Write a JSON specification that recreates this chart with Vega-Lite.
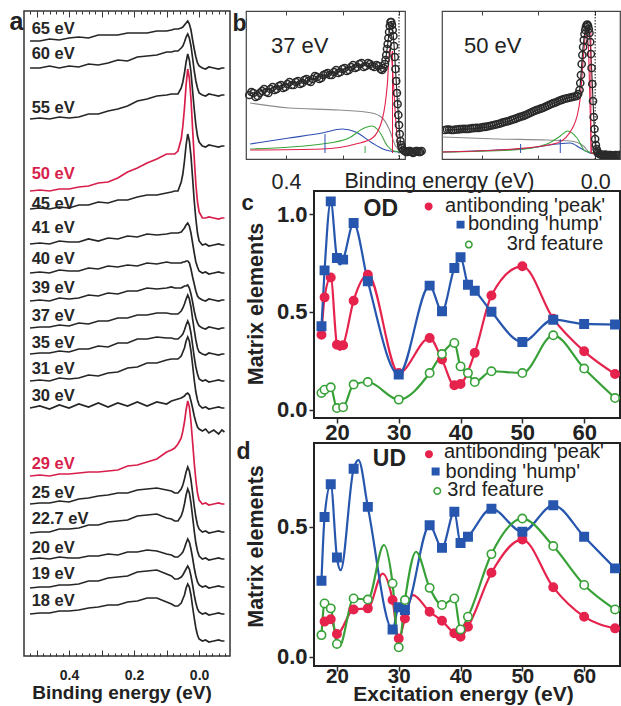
{
"$schema": "https://vega.github.io/schema/vega-lite/v6.json",
"background": "white",
"padding": {"left": 8, "top": 8, "right": 0, "bottom": 0},
"config": {
  "font": "Liberation Sans",
  "axis": {"grid": false, "domain": false, "labelFont": "Liberation Sans", "titleFont": "Liberation Sans", "labelColor": "#222", "titleColor": "#222", "tickColor": "#2a2a2a"},
  "title": {"font": "Liberation Sans", "color": "#222"},
  "text": {"font": "Liberation Sans"}
},
"datasets": {
  "traces": [
    {"t":"65 eV","hl":0,"e":[0.52,0.49,0.46,0.43,0.40,0.37,0.34,0.31,0.28,0.25,0.22,0.19,0.16,0.13,0.10,0.085,0.075,0.065,0.055,0.05,0.045,0.04,0.035,0.03,0.025,0.02,0.015,0.01,0.005,0,-0.01,-0.02,-0.03,-0.045,-0.06,-0.07,-0.078],"i":[615,615,617,616,618,619,618,621,621,621,623,623,623,625,625,626,627,627,628,629,631,633,635,632,626,616,607,599,593,590,588,587,589,588,587,588,588]},
    {"t":"60 eV","hl":0,"e":[0.52,0.49,0.46,0.43,0.40,0.37,0.34,0.31,0.28,0.25,0.22,0.19,0.16,0.13,0.10,0.085,0.075,0.065,0.055,0.05,0.045,0.04,0.035,0.03,0.025,0.02,0.015,0.01,0.005,0,-0.01,-0.02,-0.03,-0.045,-0.06,-0.07,-0.078],"i":[588,588,590,588,590,589,592,591,593,596,595,599,600,601,604,604,605,605,608,610,614,619,622,618,610,598,585,575,568,563,561,560,562,561,560,561,561]},
    {"t":"55 eV","hl":0,"e":[0.52,0.49,0.46,0.43,0.40,0.37,0.34,0.31,0.28,0.25,0.22,0.19,0.16,0.13,0.10,0.085,0.075,0.065,0.055,0.05,0.045,0.04,0.035,0.03,0.025,0.02,0.015,0.01,0.005,0,-0.01,-0.02,-0.03,-0.045,-0.06,-0.07,-0.078],"i":[537,538,537,539,538,539,542,542,545,547,550,555,557,560,561,562,562,562,568,574,583,594,602,596,584,565,547,531,520,514,510,509,511,510,509,510,510]},
    {"t":"45 eV","hl":0,"e":[0.52,0.49,0.46,0.43,0.40,0.37,0.34,0.31,0.28,0.25,0.22,0.19,0.16,0.13,0.10,0.085,0.075,0.065,0.055,0.05,0.045,0.04,0.035,0.03,0.025,0.02,0.015,0.01,0.005,0,-0.01,-0.02,-0.03,-0.045,-0.06,-0.07,-0.078],"i":[447,448,447,449,448,451,451,454,453,456,456,459,461,461,463,464,465,465,474,482,495,511,522,515,500,478,455,437,423,415,411,412,410,411,412,411,411]},
    {"t":"41 eV","hl":0,"e":[0.52,0.49,0.46,0.43,0.40,0.37,0.34,0.31,0.28,0.25,0.22,0.19,0.16,0.13,0.10,0.085,0.075,0.065,0.055,0.05,0.045,0.04,0.035,0.03,0.025,0.02,0.015,0.01,0.005,0,-0.01,-0.02,-0.03,-0.045,-0.06,-0.07,-0.078],"i":[412,413,412,415,414,414,417,415,418,417,420,419,422,421,422,423,423,423,424,426,428,431,433,430,423,413,403,394,389,385,383,384,382,383,384,383,383]},
    {"t":"40 eV","hl":0,"e":[0.52,0.49,0.46,0.43,0.40,0.37,0.34,0.31,0.28,0.25,0.22,0.19,0.16,0.13,0.10,0.085,0.075,0.065,0.055,0.05,0.045,0.04,0.035,0.03,0.025,0.02,0.015,0.01,0.005,0,-0.01,-0.02,-0.03,-0.045,-0.06,-0.07,-0.078],"i":[383,384,383,386,385,385,388,387,390,389,391,390,393,392,394,393,393,393,393,394,394,395,395,393,387,379,372,365,360,358,356,355,357,356,355,356,356]},
    {"t":"39 eV","hl":0,"e":[0.52,0.49,0.46,0.43,0.40,0.37,0.34,0.31,0.28,0.25,0.22,0.19,0.16,0.13,0.10,0.085,0.075,0.065,0.055,0.05,0.045,0.04,0.035,0.03,0.025,0.02,0.015,0.01,0.005,0,-0.01,-0.02,-0.03,-0.045,-0.06,-0.07,-0.078],"i":[355,356,355,358,357,358,361,360,363,362,365,365,368,367,368,369,368,368,368,369,370,370,371,368,362,354,345,338,333,330,328,327,329,328,327,328,328]},
    {"t":"37 eV","hl":0,"e":[0.52,0.49,0.46,0.43,0.40,0.37,0.34,0.31,0.28,0.25,0.22,0.19,0.16,0.13,0.10,0.085,0.075,0.065,0.055,0.05,0.045,0.04,0.035,0.03,0.025,0.02,0.015,0.01,0.005,0,-0.01,-0.02,-0.03,-0.045,-0.06,-0.07,-0.078],"i":[328,329,329,331,330,333,332,335,335,338,338,341,341,343,343,342,342,342,345,348,352,357,361,357,349,337,326,316,308,304,302,301,303,302,301,302,302]},
    {"t":"35 eV","hl":0,"e":[0.52,0.49,0.46,0.43,0.40,0.37,0.34,0.31,0.28,0.25,0.22,0.19,0.16,0.13,0.10,0.085,0.075,0.065,0.055,0.05,0.045,0.04,0.035,0.03,0.025,0.02,0.015,0.01,0.005,0,-0.01,-0.02,-0.03,-0.045,-0.06,-0.07,-0.078],"i":[302,303,303,305,304,307,307,310,309,313,313,317,317,319,318,318,317,317,320,322,326,331,335,331,323,311,299,289,282,277,275,276,274,275,276,275,275]},
    {"t":"31 eV","hl":0,"e":[0.52,0.49,0.46,0.43,0.40,0.37,0.34,0.31,0.28,0.25,0.22,0.19,0.16,0.13,0.10,0.085,0.075,0.065,0.055,0.05,0.045,0.04,0.035,0.03,0.025,0.02,0.015,0.01,0.005,0,-0.01,-0.02,-0.03,-0.045,-0.06,-0.07,-0.078],"i":[275,276,275,278,277,278,281,280,283,284,288,289,293,293,296,297,297,297,300,304,308,315,319,315,305,291,276,264,256,251,248,249,247,248,249,248,248]},
    {"t":"30 eV","hl":0,"e":[0.52,0.49,0.46,0.43,0.40,0.37,0.34,0.31,0.28,0.25,0.22,0.19,0.16,0.13,0.10,0.085,0.075,0.065,0.055,0.05,0.045,0.04,0.035,0.03,0.025,0.02,0.015,0.01,0.005,0,-0.01,-0.02,-0.03,-0.045,-0.06,-0.07,-0.078],"i":[248,250,247,251,248,252,249,253,249,253,250,254,250,254,252,255,256,257,258,259,260,262,263,261,255,248,240,234,229,227,225,227,223,226,222,226,224]},
    {"t":"25 eV","hl":0,"e":[0.52,0.49,0.46,0.43,0.40,0.37,0.34,0.31,0.28,0.25,0.22,0.19,0.16,0.13,0.10,0.085,0.075,0.065,0.055,0.05,0.045,0.04,0.035,0.03,0.025,0.02,0.015,0.01,0.005,0,-0.01,-0.02,-0.03,-0.045,-0.06,-0.07,-0.078],"i":[152,153,153,155,154,157,158,160,161,163,163,166,167,168,166,165,163,163,167,171,177,184,189,185,176,163,150,139,131,127,124,125,123,124,125,124,124]},
    {"t":"22.7 eV","hl":0,"e":[0.52,0.49,0.46,0.43,0.40,0.37,0.34,0.31,0.28,0.25,0.22,0.19,0.16,0.13,0.10,0.085,0.075,0.065,0.055,0.05,0.045,0.04,0.035,0.03,0.025,0.02,0.015,0.01,0.005,0,-0.01,-0.02,-0.03,-0.045,-0.06,-0.07,-0.078],"i":[123,124,124,127,127,128,131,131,134,135,136,140,141,142,138,137,135,135,140,145,152,161,167,163,153,139,125,113,105,100,97,98,96,97,98,97,97]},
    {"t":"20 eV","hl":0,"e":[0.52,0.49,0.46,0.43,0.40,0.37,0.34,0.31,0.28,0.25,0.22,0.19,0.16,0.13,0.10,0.085,0.075,0.065,0.055,0.05,0.045,0.04,0.035,0.03,0.025,0.02,0.015,0.01,0.005,0,-0.01,-0.02,-0.03,-0.045,-0.06,-0.07,-0.078],"i":[97,98,97,99,98,98,100,100,102,101,104,104,106,105,102,101,99,99,102,104,108,113,117,114,107,98,88,80,74,71,69,70,68,69,70,69,69]},
    {"t":"19 eV","hl":0,"e":[0.52,0.49,0.46,0.43,0.40,0.37,0.34,0.31,0.28,0.25,0.22,0.19,0.16,0.13,0.10,0.085,0.075,0.065,0.055,0.05,0.045,0.04,0.035,0.03,0.025,0.02,0.015,0.01,0.005,0,-0.01,-0.02,-0.03,-0.045,-0.06,-0.07,-0.078],"i":[68,69,69,71,71,72,75,75,78,79,80,84,85,86,82,80,77,77,79,81,84,87,90,87,80,71,61,53,47,44,42,43,41,42,43,42,42]},
    {"t":"18 eV","hl":0,"e":[0.52,0.49,0.46,0.43,0.40,0.37,0.34,0.31,0.28,0.25,0.22,0.19,0.16,0.13,0.10,0.085,0.075,0.065,0.055,0.05,0.045,0.04,0.035,0.03,0.025,0.02,0.015,0.01,0.005,0,-0.01,-0.02,-0.03,-0.045,-0.06,-0.07,-0.078],"i":[42,43,43,45,45,46,48,49,51,51,54,55,58,58,54,52,50,50,53,57,61,68,72,69,61,49,38,28,21,17,15,16,14,15,16,15,15]},
    {"t":"50 eV","hl":1,"e":[0.52,0.49,0.46,0.43,0.40,0.37,0.34,0.31,0.28,0.25,0.22,0.19,0.16,0.13,0.10,0.085,0.075,0.065,0.055,0.05,0.045,0.04,0.035,0.03,0.025,0.02,0.015,0.01,0.005,0,-0.01,-0.02,-0.03,-0.045,-0.06,-0.07,-0.078],"i":[465,466,465,467,467,469,470,473,474,478,484,488,493,497,502,502,502,505,517,530,548,571,587,578,557,527,498,472,454,444,438,438,439,438,437,438,438]},
    {"t":"29 eV","hl":1,"e":[0.52,0.49,0.46,0.43,0.40,0.37,0.34,0.31,0.28,0.25,0.22,0.19,0.16,0.13,0.10,0.085,0.075,0.065,0.055,0.05,0.045,0.04,0.035,0.03,0.025,0.02,0.015,0.01,0.005,0,-0.01,-0.02,-0.03,-0.045,-0.06,-0.07,-0.078],"i":[180,181,180,182,182,183,184,184,185,186,190,191,194,197,204,206,208,212,218,225,234,246,255,249,234,214,193,176,163,156,152,153,151,152,153,152,152]}
  ],
  "labels": [
    {"t":"65 eV","e":0.515,"i":622,"hl":0},
    {"t":"60 eV","e":0.515,"i":597,"hl":0},
    {"t":"55 eV","e":0.515,"i":543,"hl":0},
    {"t":"50 eV","e":0.515,"i":477,"hl":1},
    {"t":"45 eV","e":0.515,"i":447,"hl":0},
    {"t":"41 eV","e":0.515,"i":423,"hl":0},
    {"t":"40 eV","e":0.515,"i":392,"hl":0},
    {"t":"39 eV","e":0.515,"i":363,"hl":0},
    {"t":"37 eV","e":0.515,"i":335,"hl":0},
    {"t":"35 eV","e":0.515,"i":308,"hl":0},
    {"t":"31 eV","e":0.515,"i":282,"hl":0},
    {"t":"30 eV","e":0.515,"i":255,"hl":0},
    {"t":"29 eV","e":0.515,"i":187,"hl":1},
    {"t":"25 eV","e":0.515,"i":158,"hl":0},
    {"t":"22.7 eV","e":0.515,"i":132,"hl":0},
    {"t":"20 eV","e":0.515,"i":103,"hl":0},
    {"t":"19 eV","e":0.515,"i":77,"hl":0},
    {"t":"18 eV","e":0.515,"i":50,"hl":0}
  ],
  "b37p": [
    {"e":[0.53,0.515,0.50,0.485,0.47,0.455,0.44,0.425,0.41,0.395,0.38,0.365,0.35,0.335,0.32,0.305,0.29,0.275,0.26,0.245,0.23,0.215,0.20,0.185,0.17,0.155,0.14,0.125,0.11,0.095,0.08,0.065,0.055,0.05,0.045,0.04,0.035,0.03,0.025,0.02,0.015,0.01,0.005,0,-0.005,-0.01,-0.02,-0.03,-0.04,-0.05,-0.06,-0.07,-0.08],
     "i":[64,66,63,68,67,70,69,73,71,75,74,77,75,79,78,80,82,81,85,84,87,86,90,88,92,91,95,92,96,93,94,90,91,95,104,115,127,137,134,123,102,78,55,34,18,11,8,7,8,6,8,7,8]},
    {"e":[0.5225,0.5075,0.4925,0.4775,0.4625,0.4475,0.4325,0.4175,0.4025,0.3875,0.3725,0.3575,0.3425,0.3275,0.3125,0.2975,0.2825,0.2675,0.2525,0.2375,0.2225,0.2075,0.1925,0.1775,0.1625,0.1475,0.1325,0.1175,0.1025,0.0875,0.0725,0.06,0.0475,0.0425,0.0375,0.0325,0.0275,0.0225,0.0175,0.0125,0.0075,0.0025,-0.0025,-0.0075,-0.015,-0.025,-0.035,-0.045,-0.055,-0.065,-0.075],
     "i":[67,62,66,70,66,72,70,74,72,77,74,78,76,80,77,83,80,84,86,84,89,87,91,89,94,92,96,93,95,92,93,89,99,110,121,133,137,129,113,90,66,44,25,14,9,7,8,7,7,8,7]}
  ],
  "b37c": [
    {"c":"bg","e":[0.527,0.389,0.212,0.096,0.059,0.035,0.012,-0.006,-0.02],"i":[56,51,49,46,41,30,13,8,7]},
    {"c":"blue","e":[0.527,0.389,0.272,0.201,0.153,0.095,0.047,0,-0.02],"i":[15,21,26,30,27,16,9,7,7]},
    {"c":"green","e":[0.527,0.272,0.177,0.13,0.097,0.071,0.041,0.018,-0.007,-0.02],"i":[10,15,21,30,33,28,13,8,7,7]},
    {"c":"red","e":[0.527,0.274,0.153,0.094,0.059,0.041,0.033,0.027,0.019,0.012,0.005,-0.004,-0.02],"i":[9,10,15,21,40,76,110,103,73,40,18,8,7]},
    {"c":"fit","e":[0.53,0.45,0.39,0.33,0.27,0.21,0.17,0.12,0.085,0.065,0.055,0.05,0.045,0.04,0.035,0.03,0.025,0.02,0.015,0.01,0.005,0,-0.005,-0.01,-0.02],"i":[65,71,75,78,83,88,92,94,93,90,91,95,104,115,127,137,134,123,102,78,55,34,18,11,8]}
  ],
  "b37t": [
    {"c":"blue","e":0.262,"i":25,"i2":6},
    {"c":"green","e":0.12,"i":13,"i2":6},
    {"c":"red","e":0.023,"i":108,"i2":6}
  ],
  "b50p": [
    {"e":[0.53,0.515,0.50,0.485,0.47,0.455,0.44,0.425,0.41,0.395,0.38,0.365,0.35,0.335,0.32,0.305,0.29,0.275,0.26,0.245,0.23,0.215,0.20,0.185,0.17,0.155,0.14,0.125,0.11,0.095,0.08,0.065,0.055,0.05,0.045,0.04,0.035,0.03,0.025,0.02,0.015,0.01,0.005,0,-0.005,-0.01,-0.02,-0.03,-0.04,-0.05,-0.06,-0.07,-0.08,-0.087],
     "i":[29,29.5,29,29.5,30,30,30.5,31,31,32,32.5,33.5,34.5,35.5,37,38,39.5,41,42.5,44,46,48,49.5,51,53,55,56.5,58.5,60,61,62,63,69,84,104,119,129,134,133,126,105,75,42,20,10,6,4.5,4,4,4,3.5,4,3.5,4]},
    {"e":[0.5225,0.5075,0.4925,0.4775,0.4625,0.4475,0.4325,0.4175,0.4025,0.3875,0.3725,0.3575,0.3425,0.3275,0.3125,0.2975,0.2825,0.2675,0.2525,0.2375,0.2225,0.2075,0.1925,0.1775,0.1625,0.1475,0.1325,0.1175,0.1025,0.0875,0.0725,0.06,0.0525,0.0475,0.0425,0.0375,0.0325,0.0275,0.0225,0.0175,0.0125,0.0075,0.0025,-0.0025,-0.0075,-0.015,-0.025,-0.035,-0.045,-0.055,-0.065,-0.075,-0.085],
     "i":[29.5,29,29.5,29.8,30.2,30.2,30.8,31.2,31.5,32.2,33,34,35,36.3,37.5,38.8,40.2,41.8,43.2,45,47,48.8,50.3,52,54,55.8,57.5,59.2,60.5,61.5,62.5,65,76,95,112,125,132,134.5,130,117,91,58,30,14,8,5,4,4.5,4,4,3.5,4,4]}
  ],
  "b50c": [
    {"c":"bg","e":[0.54,0.345,0.17,0.088,0.041,0.018,0,-0.087],"i":[22,20,19,18,13,6,5,4.5]},
    {"c":"blue","e":[0.54,0.345,0.228,0.134,0.088,0.053,0.018,-0.018,-0.087],"i":[7,9,11,15,16,11,6,5,4.5]},
    {"c":"green","e":[0.54,0.287,0.17,0.123,0.097,0.064,0.035,0,-0.087],"i":[7,9,15,23,28,21,8,6,4.5]},
    {"c":"red","e":[0.54,0.287,0.134,0.076,0.053,0.041,0.032,0.024,0.018,0.012,0,-0.087],"i":[7,10,16,33,60,103,128,113,53,6,5,4.5]},
    {"c":"fit","e":[0.53,0.40,0.29,0.17,0.11,0.08,0.065,0.055,0.05,0.045,0.04,0.035,0.03,0.025,0.02,0.015,0.01,0.005,0,-0.005,-0.01,-0.02,-0.087],"i":[29,31,39.5,53,60,62,63,69,84,104,119,129,134,133,126,105,75,42,20,10,6,4.5,4]}
  ],
  "b50t": [
    {"c":"blue","e":0.263,"i":15,"i2":6},
    {"c":"blue","e":0.123,"i":20,"i2":6},
    {"c":"red","e":0.015,"i":128,"i2":6}
  ],
  "cdata": [
    {"s":"ab","e":[17.5,18,19,20,20.5,21,22.7,25,30,35,37,39,40,42.3,45,50,55,60,65],"v":[0.383,0.574,0.676,0.332,0.305,0.329,0.557,0.69,0.187,0.366,0.256,0.124,0.131,0.29,0.584,0.733,0.465,0.298,0.182],"pt":[1,1,1,1,0,1,1,1,1,1,1,1,1,1,1,1,1,1,1]},
    {"s":"bd","e":[17.5,18,19,20,20.5,21,22.7,25,30,35,37,39,40,41.2,42.3,45,50,55,60,65],"v":[0.426,0.712,1.065,0.775,0.742,0.767,0.954,0.656,0.179,0.634,0.503,0.724,0.779,0.639,0.608,0.50,0.346,0.46,0.438,0.435],"pt":[1,1,1,1,0,1,1,1,1,1,1,1,1,1,1,1,1,1,1,1]},
    {"s":"3rd","e":[17.5,18,19,20,21,22.7,25,30,35,37,39,40,41.2,42.3,45,50,55,60,65],"v":[0.085,0.102,0.114,0.008,0.012,0.128,0.141,0.051,0.187,0.284,0.341,0.221,0.187,0.141,0.196,0.187,0.38,0.21,0.059],"pt":[1,1,1,1,1,1,1,1,1,1,1,1,1,1,1,1,1,1,1]}
  ],
  "ddata": [
    {"s":"ab","e":[18,19,20,22.7,25,27.4,29,30,31,32.3,35,37,39,40,41.2,45,50,55,60,65],"v":[0.135,0.144,0.087,0.182,0.186,0.32,0.218,0.07,0.147,0.237,0.173,0.138,0.09,0.077,0.115,0.323,0.451,0.267,0.154,0.109],"pt":[1,1,1,1,1,0,1,1,1,0,1,1,1,1,1,1,1,1,1,1]},
    {"s":"bd","e":[17.5,18,19,20,20.6,22.7,23.5,25,29,30,31,35,37,39,40,41.2,45,50,55,60,65],"v":[0.292,0.538,0.664,0.382,0.333,0.724,0.757,0.577,0.105,0.19,0.18,0.506,0.419,0.558,0.438,0.462,0.57,0.481,0.583,0.462,0.34],"pt":[1,1,1,1,0,1,0,1,1,1,1,1,1,1,1,1,1,1,1,1,1]},
    {"s":"3rd","e":[17.5,18,19,20,20.4,22.7,25,27.6,29,30,31,32.8,35,37,39,40,41.2,45,50,55,60,65],"v":[0.083,0.205,0.186,0.049,0.04,0.224,0.22,0.43,0.282,0.036,0.218,0.404,0.265,0.199,0.224,0.105,0.154,0.395,0.532,0.426,0.276,0.182],"pt":[1,1,1,1,0,1,1,0,1,1,1,0,1,1,1,1,1,1,1,1,1,1]}
  ],
  "cleg": [
    {"s":"ab","lab":"antibonding 'peak'","se":34.84,"sv":1.039,"te":63.39,"tv":1.010},
    {"s":"bd","lab":"bonding 'hump'","se":40.0,"sv":0.946,"te":62.95,"tv":0.920},
    {"s":"3rd","lab":"3rd feature","se":41.34,"sv":0.844,"te":63.11,"tv":0.818}
  ],
  "dleg": [
    {"s":"ab","lab":"antibonding 'peak'","se":34.89,"sv":0.780,"te":37.31,"tv":0.764},
    {"s":"bd","lab":"bonding 'hump'","se":35.97,"sv":0.713,"te":37.58,"tv":0.690},
    {"s":"3rd","lab":"3rd feature","se":36.24,"sv":0.638,"te":37.85,"tv":0.619}
  ]
},
"bounds": "flush",
"spacing": 16,
"resolve": {"scale": {"color": "independent", "fill": "independent", "stroke": "independent", "shape": "independent"}},
"hconcat": [
  {
    "width": 206, "height": 645,
    "view": {"stroke": "#333", "strokeWidth": 1.5},
    "resolve": {"axis": {"x": "independent"}},
    "layer": [
      {
        "data": {"name": "traces"},
        "transform": [{"flatten": ["e", "i"]}],
        "mark": {"type": "line", "strokeWidth": 1.7},
        "encoding": {
          "x": {"field": "e", "type": "quantitative", "scale": {"domain": [-0.095, 0.5385], "reverse": true, "nice": false, "zero": false},
            "axis": {"orient": "bottom", "values": [-0.08,-0.06,-0.04,-0.02,0,0.02,0.04,0.06,0.08,0.1,0.12,0.14,0.16,0.18,0.2,0.22,0.24,0.26,0.28,0.3,0.32,0.34,0.36,0.38,0.4,0.42,0.44,0.46,0.48,0.5,0.52],
              "tickSize": {"condition": {"test": "abs(datum.value*10 - round(datum.value*10)) < 0.01", "value": -6}, "value": -3},
              "tickWidth": 1, "tickColor": "#333",
              "labelExpr": "abs(datum.value-0.4)<0.001 ? '0.4' : abs(datum.value-0.2)<0.001 ? '0.2' : abs(datum.value)<0.001 ? '0.0' : ''",
              "labelFontSize": 14, "labelFontWeight": "bold", "labelBaseline": "alphabetic", "labelPadding": 29, "labelOverlap": false, "labelFlush": false,
              "title": "Binding energy (eV)", "titleFontSize": 19, "titleFontWeight": "bold", "titleX": 97.5, "titleY": 42.5, "titleBaseline": "alphabetic", "titleAlign": "center"}},
          "y": {"field": "i", "type": "quantitative", "scale": {"domain": [0, 645], "nice": false, "zero": false}, "axis": null},
          "detail": {"field": "t"},
          "color": {"field": "hl", "type": "nominal", "scale": {"domain": [0, 1], "range": ["#262626", "#d81f4c"]}, "legend": null}
        }
      },
      {
        "data": {"name": "labels"},
        "mark": {"type": "text", "align": "left", "baseline": "alphabetic", "fontSize": 16.5, "fontWeight": "bold"},
        "encoding": {
          "x": {"field": "e", "type": "quantitative", "scale": {"domain": [-0.095, 0.5385], "reverse": true, "nice": false, "zero": false},
            "axis": {"orient": "top", "values": [-0.08,-0.06,-0.04,-0.02,0,0.02,0.04,0.06,0.08,0.1,0.12,0.14,0.16,0.18,0.2,0.22,0.24,0.26,0.28,0.3,0.32,0.34,0.36,0.38,0.4,0.42,0.44,0.46,0.48,0.5,0.52],
              "tickSize": {"condition": {"test": "abs(datum.value*10 - round(datum.value*10)) < 0.01", "value": -6}, "value": -3},
              "tickWidth": 1, "tickColor": "#333", "labels": false,
              "title": "a", "titleX": -15, "titleY": 18, "titleAlign": "left", "titleBaseline": "alphabetic", "titleAngle": 0, "titleFontSize": 25, "titleFontWeight": "bold"}},
          "y": {"field": "i", "type": "quantitative", "scale": {"domain": [0, 645], "nice": false, "zero": false}, "axis": null},
          "text": {"field": "t"},
          "color": {"field": "hl", "type": "nominal", "scale": {"domain": [0, 1], "range": ["#262626", "#d81f4c"]}, "legend": null}
        }
      }
    ]
  },
  {
    "bounds": "flush",
    "spacing": 180,
    "resolve": {"scale": {"color": "independent", "fill": "independent", "stroke": "independent", "shape": "independent"}},
    "vconcat": [
      {
        "bounds": "flush",
        "spacing": 37,
        "resolve": {"scale": {"color": "independent"}},
        "hconcat": [
          {
            "width": 159, "height": 148,
            "view": {"stroke": "#444", "strokeWidth": 1.2},
            "resolve": {"axis": {"x": "independent"}},
            "layer": [
              {
                "data": {"values": [{"e": 0}]},
                "mark": {"type": "rule", "strokeDash": [1.5, 1.5], "color": "#111", "strokeWidth": 1},
                "encoding": {"x": {"field": "e", "type": "quantitative", "scale": {"domain": [-0.0212, 0.5416], "reverse": true, "nice": false, "zero": false}, "axis": null}}
              },
              {
                "data": {"name": "b37c"},
                "transform": [{"flatten": ["e", "i"]}],
                "mark": {"type": "line", "strokeWidth": 1.1, "interpolate": "monotone"},
                "encoding": {
                  "x": {"field": "e", "type": "quantitative", "scale": {"domain": [-0.0212, 0.5416], "reverse": true, "nice": false, "zero": false},
                    "axis": {"orient": "top", "values": [0.4, 0.2, 0], "tickSize": -4, "tickColor": "#444", "labels": false,
                      "title": "b", "titleX": -14, "titleY": 19, "titleAlign": "left", "titleBaseline": "alphabetic", "titleAngle": 0, "titleFontSize": 23, "titleFontWeight": "bold"}},
                  "y": {"field": "i", "type": "quantitative", "scale": {"domain": [0, 148], "nice": false, "zero": false}, "axis": null},
                  "color": {"field": "c", "type": "nominal", "scale": {"domain": ["fit", "bg", "blue", "green", "red"], "range": ["#222222", "#8c8c8c", "#2d4fb0", "#3aa63a", "#e0204b"]}, "legend": null}
                }
              },
              {
                "data": {"name": "b37t"},
                "mark": {"type": "rule", "strokeWidth": 1},
                "encoding": {
                  "x": {"field": "e", "type": "quantitative", "scale": {"domain": [-0.0212, 0.5416], "reverse": true, "nice": false, "zero": false}, "axis": null},
                  "y": {"field": "i", "type": "quantitative", "scale": {"domain": [0, 148], "nice": false, "zero": false}, "axis": null},
                  "y2": {"field": "i2"},
                  "color": {"field": "c", "type": "nominal", "scale": {"domain": ["fit", "bg", "blue", "green", "red"], "range": ["#222222", "#8c8c8c", "#2d4fb0", "#3aa63a", "#e0204b"]}, "legend": null}
                }
              },
              {
                "data": {"name": "b37p"},
                "transform": [{"flatten": ["e", "i"]}],
                "mark": {"type": "point", "shape": "circle", "filled": false, "size": 52, "strokeWidth": 1.5, "color": "#2a2a2a", "opacity": 1, "clip": false},
                "encoding": {
                  "x": {"field": "e", "type": "quantitative", "scale": {"domain": [-0.0212, 0.5416], "reverse": true, "nice": false, "zero": false},
                    "axis": {"orient": "bottom", "values": [0.4, 0.2, 0], "tickSize": -4, "tickColor": "#444",
                      "labelExpr": "datum.value > 0.3 ? '0.4' : ''", "labelFontSize": 21.5, "labelBaseline": "alphabetic", "labelPadding": 33, "labelOverlap": false, "labelFlush": false,
                      "title": "Binding energy (eV)", "titleFontSize": 21.5, "titleFontWeight": "normal", "titleX": 193, "titleY": 28, "titleBaseline": "alphabetic", "titleAlign": "center"}},
                  "y": {"field": "i", "type": "quantitative", "scale": {"domain": [0, 148], "nice": false, "zero": false}, "axis": null}
                }
              },
              {
                "data": {"values": [{"t": "37 eV", "e": 0.453, "i": 106}]},
                "mark": {"type": "text", "align": "left", "baseline": "alphabetic", "fontSize": 22, "color": "#222"},
                "encoding": {
                  "x": {"field": "e", "type": "quantitative", "scale": {"domain": [-0.0212, 0.5416], "reverse": true, "nice": false, "zero": false}, "axis": null},
                  "y": {"field": "i", "type": "quantitative", "scale": {"domain": [0, 148], "nice": false, "zero": false}, "axis": null},
                  "text": {"field": "t"}
                }
              }
            ]
          },
          {
            "width": 178, "height": 148,
            "view": {"stroke": "#444", "strokeWidth": 1.2},
            "resolve": {"axis": {"x": "independent"}},
            "layer": [
              {
                "data": {"values": [{"e": 0}]},
                "mark": {"type": "rule", "strokeDash": [1.5, 1.5], "color": "#111", "strokeWidth": 1},
                "encoding": {"x": {"field": "e", "type": "quantitative", "scale": {"domain": [-0.0877, 0.5404], "reverse": true, "nice": false, "zero": false}, "axis": null}}
              },
              {
                "data": {"name": "b50c"},
                "transform": [{"flatten": ["e", "i"]}],
                "mark": {"type": "line", "strokeWidth": 1.1, "interpolate": "monotone"},
                "encoding": {
                  "x": {"field": "e", "type": "quantitative", "scale": {"domain": [-0.0877, 0.5404], "reverse": true, "nice": false, "zero": false},
                    "axis": {"orient": "top", "values": [0.4, 0.2, 0], "tickSize": -4, "tickColor": "#444", "labels": false, "title": null}},
                  "y": {"field": "i", "type": "quantitative", "scale": {"domain": [0, 148], "nice": false, "zero": false}, "axis": null},
                  "color": {"field": "c", "type": "nominal", "scale": {"domain": ["fit", "bg", "blue", "green", "red"], "range": ["#222222", "#8c8c8c", "#2d4fb0", "#3aa63a", "#e0204b"]}, "legend": null}
                }
              },
              {
                "data": {"name": "b50t"},
                "mark": {"type": "rule", "strokeWidth": 1},
                "encoding": {
                  "x": {"field": "e", "type": "quantitative", "scale": {"domain": [-0.0877, 0.5404], "reverse": true, "nice": false, "zero": false}, "axis": null},
                  "y": {"field": "i", "type": "quantitative", "scale": {"domain": [0, 148], "nice": false, "zero": false}, "axis": null},
                  "y2": {"field": "i2"},
                  "color": {"field": "c", "type": "nominal", "scale": {"domain": ["fit", "bg", "blue", "green", "red"], "range": ["#222222", "#8c8c8c", "#2d4fb0", "#3aa63a", "#e0204b"]}, "legend": null}
                }
              },
              {
                "data": {"name": "b50p"},
                "transform": [{"flatten": ["e", "i"]}],
                "mark": {"type": "point", "shape": "circle", "filled": false, "size": 52, "strokeWidth": 1.5, "color": "#2a2a2a", "opacity": 1, "clip": true},
                "encoding": {
                  "x": {"field": "e", "type": "quantitative", "scale": {"domain": [-0.0877, 0.5404], "reverse": true, "nice": false, "zero": false},
                    "axis": {"orient": "bottom", "values": [0.4, 0.2, 0], "tickSize": -4, "tickColor": "#444",
                      "labelExpr": "abs(datum.value) < 0.001 ? '0.0' : ''", "labelFontSize": 21.5, "labelBaseline": "alphabetic", "labelPadding": 33, "labelOverlap": false, "labelFlush": false,
                      "title": null}},
                  "y": {"field": "i", "type": "quantitative", "scale": {"domain": [0, 148], "nice": false, "zero": false}, "axis": null}
                }
              },
              {
                "data": {"values": [{"t": "50 eV", "e": 0.463, "i": 106}]},
                "mark": {"type": "text", "align": "left", "baseline": "alphabetic", "fontSize": 22, "color": "#222"},
                "encoding": {
                  "x": {"field": "e", "type": "quantitative", "scale": {"domain": [-0.0877, 0.5404], "reverse": true, "nice": false, "zero": false}, "axis": null},
                  "y": {"field": "i", "type": "quantitative", "scale": {"domain": [0, 148], "nice": false, "zero": false}, "axis": null},
                  "text": {"field": "t"}
                }
              }
            ]
          }
        ]
      },
      {
        "bounds": "flush",
        "spacing": 18,
        "resolve": {"scale": {"color": "independent", "fill": "independent", "stroke": "independent", "shape": "independent"}},
        "hconcat": [
          {
            "width": 50, "height": 100,
            "data": {"values": [{}]},
            "mark": {"type": "point", "opacity": 0},
            "view": {"stroke": null}
          },
          {
            "bounds": "flush",
            "spacing": 25,
            "resolve": {"scale": {"color": "independent", "fill": "independent", "stroke": "independent", "shape": "independent"}},
            "vconcat": [
              {
                "width": 306, "height": 227,
                "view": {"stroke": "#222", "strokeWidth": 2},
                "resolve": {"axis": {"x": "independent"}},
                "layer": [
                  {
                    "data": {"name": "cdata"},
                    "transform": [{"flatten": ["e", "v", "pt"]}],
                    "mark": {"type": "line", "interpolate": "monotone", "strokeWidth": 2.2},
                    "encoding": {
                      "x": {"field": "e", "type": "quantitative", "scale": {"domain": [16.29, 65.8], "nice": false, "zero": false},
                        "axis": {"orient": "bottom", "values": [20, 30, 40, 50, 60], "tickSize": 5, "tickWidth": 1.5, "labelFontSize": 22, "labelFontWeight": "bold", "labelBaseline": "alphabetic", "labelPadding": 16, "title": null}},
                      "y": {"field": "v", "type": "quantitative", "scale": {"domain": [-0.043, 1.118], "nice": false, "zero": false},
                        "axis": {"values": [0, 0.5, 1], "format": ".1f", "tickSize": 5, "tickWidth": 1.5, "labelFontSize": 22, "labelFontWeight": "bold", "labelPadding": 2,
                          "title": "Matrix elements", "titleFontSize": 21.5, "titleFontWeight": "bold", "titleX": -58, "titleY": 112.5, "titleBaseline": "middle", "titleAlign": "center", "titleAngle": 270}},
                      "color": {"field": "s", "type": "nominal", "scale": {"domain": ["ab", "bd", "3rd"], "range": ["#e5234d", "#2656ad", "#37a137"]}, "legend": null}
                    }
                  },
                  {
                    "data": {"name": "cdata"},
                    "transform": [{"flatten": ["e", "v", "pt"]}, {"filter": "datum.pt == 1"}],
                    "mark": {"type": "point", "filled": true, "size": 70, "strokeWidth": 1.6, "opacity": 1},
                    "encoding": {
                      "x": {"field": "e", "type": "quantitative", "scale": {"domain": [16.29, 65.8], "nice": false, "zero": false}, "axis": null},
                      "y": {"field": "v", "type": "quantitative", "scale": {"domain": [-0.043, 1.118], "nice": false, "zero": false}},
                      "shape": {"field": "s", "type": "nominal", "scale": {"domain": ["ab", "bd", "3rd"], "range": ["circle", "square", "circle"]}, "legend": null},
                      "fill": {"field": "s", "type": "nominal", "scale": {"domain": ["ab", "bd", "3rd"], "range": ["#e5234d", "#2656ad", "#ffffff"]}, "legend": null},
                      "stroke": {"field": "s", "type": "nominal", "scale": {"domain": ["ab", "bd", "3rd"], "range": ["#e5234d", "#2656ad", "#37a137"]}, "legend": null}
                    }
                  },
                  {
                    "data": {"name": "cleg"},
                    "mark": {"type": "point", "filled": true, "size": 42, "strokeWidth": 1.5, "opacity": 1},
                    "encoding": {
                      "x": {"field": "se", "type": "quantitative", "scale": {"domain": [16.29, 65.8], "nice": false, "zero": false}, "axis": null},
                      "y": {"field": "sv", "type": "quantitative", "scale": {"domain": [-0.043, 1.118], "nice": false, "zero": false}},
                      "shape": {"field": "s", "type": "nominal", "scale": {"domain": ["ab", "bd", "3rd"], "range": ["circle", "square", "circle"]}, "legend": null},
                      "fill": {"field": "s", "type": "nominal", "scale": {"domain": ["ab", "bd", "3rd"], "range": ["#e5234d", "#2656ad", "#ffffff"]}, "legend": null},
                      "stroke": {"field": "s", "type": "nominal", "scale": {"domain": ["ab", "bd", "3rd"], "range": ["#e5234d", "#2656ad", "#37a137"]}, "legend": null}
                    }
                  },
                  {
                    "data": {"name": "cleg"},
                    "mark": {"type": "text", "align": "right", "baseline": "alphabetic", "fontSize": 20, "color": "#222"},
                    "encoding": {
                      "x": {"field": "te", "type": "quantitative", "scale": {"domain": [16.29, 65.8], "nice": false, "zero": false}, "axis": null},
                      "y": {"field": "tv", "type": "quantitative", "scale": {"domain": [-0.043, 1.118], "nice": false, "zero": false}},
                      "text": {"field": "lab"}
                    }
                  },
                  {
                    "data": {"values": [{"lab": "OD", "e": 27.1, "v": 0.988}]},
                    "mark": {"type": "text", "fontSize": 23, "fontWeight": "bold", "baseline": "alphabetic", "align": "center", "color": "#222"},
                    "encoding": {
                      "x": {"field": "e", "type": "quantitative", "scale": {"domain": [16.29, 65.8], "nice": false, "zero": false},
                        "axis": {"orient": "top", "ticks": false, "labels": false,
                          "title": "c", "titleX": -73, "titleY": 18, "titleAlign": "left", "titleBaseline": "alphabetic", "titleAngle": 0, "titleFontSize": 22, "titleFontWeight": "bold"}},
                      "y": {"field": "v", "type": "quantitative", "scale": {"domain": [-0.043, 1.118], "nice": false, "zero": false}},
                      "text": {"field": "lab"}
                    }
                  }
                ]
              },
              {
                "width": 306, "height": 223,
                "view": {"stroke": "#222", "strokeWidth": 2},
                "resolve": {"axis": {"x": "independent"}},
                "layer": [
                  {
                    "data": {"name": "ddata"},
                    "transform": [{"flatten": ["e", "v", "pt"]}],
                    "mark": {"type": "line", "interpolate": "monotone", "strokeWidth": 2.2},
                    "encoding": {
                      "x": {"field": "e", "type": "quantitative", "scale": {"domain": [16.29, 65.8], "nice": false, "zero": false},
                        "axis": {"orient": "bottom", "values": [20, 30, 40, 50, 60], "tickSize": 5, "tickWidth": 1.5, "labelFontSize": 20.5, "labelFontWeight": "bold", "labelBaseline": "alphabetic", "labelPadding": 11,
                          "title": "Excitation energy (eV)", "titleFontSize": 21, "titleFontWeight": "bold", "titleX": 149, "titleY": 34, "titleBaseline": "alphabetic", "titleAlign": "center"}},
                      "y": {"field": "v", "type": "quantitative", "scale": {"domain": [-0.036, 0.823], "nice": false, "zero": false},
                        "axis": {"values": [0, 0.5], "format": ".1f", "tickSize": 5, "tickWidth": 1.5, "labelFontSize": 22, "labelFontWeight": "bold", "labelPadding": 2,
                          "title": "Matrix elements", "titleFontSize": 21.5, "titleFontWeight": "bold", "titleX": -58, "titleY": 103, "titleBaseline": "middle", "titleAlign": "center", "titleAngle": 270}},
                      "color": {"field": "s", "type": "nominal", "scale": {"domain": ["ab", "bd", "3rd"], "range": ["#e5234d", "#2656ad", "#37a137"]}, "legend": null}
                    }
                  },
                  {
                    "data": {"name": "ddata"},
                    "transform": [{"flatten": ["e", "v", "pt"]}, {"filter": "datum.pt == 1"}],
                    "mark": {"type": "point", "filled": true, "size": 70, "strokeWidth": 1.6, "opacity": 1},
                    "encoding": {
                      "x": {"field": "e", "type": "quantitative", "scale": {"domain": [16.29, 65.8], "nice": false, "zero": false}, "axis": null},
                      "y": {"field": "v", "type": "quantitative", "scale": {"domain": [-0.036, 0.823], "nice": false, "zero": false}},
                      "shape": {"field": "s", "type": "nominal", "scale": {"domain": ["ab", "bd", "3rd"], "range": ["circle", "square", "circle"]}, "legend": null},
                      "fill": {"field": "s", "type": "nominal", "scale": {"domain": ["ab", "bd", "3rd"], "range": ["#e5234d", "#2656ad", "#ffffff"]}, "legend": null},
                      "stroke": {"field": "s", "type": "nominal", "scale": {"domain": ["ab", "bd", "3rd"], "range": ["#e5234d", "#2656ad", "#37a137"]}, "legend": null}
                    }
                  },
                  {
                    "data": {"name": "dleg"},
                    "mark": {"type": "point", "filled": true, "size": 42, "strokeWidth": 1.5, "opacity": 1},
                    "encoding": {
                      "x": {"field": "se", "type": "quantitative", "scale": {"domain": [16.29, 65.8], "nice": false, "zero": false}, "axis": null},
                      "y": {"field": "sv", "type": "quantitative", "scale": {"domain": [-0.036, 0.823], "nice": false, "zero": false}},
                      "shape": {"field": "s", "type": "nominal", "scale": {"domain": ["ab", "bd", "3rd"], "range": ["circle", "square", "circle"]}, "legend": null},
                      "fill": {"field": "s", "type": "nominal", "scale": {"domain": ["ab", "bd", "3rd"], "range": ["#e5234d", "#2656ad", "#ffffff"]}, "legend": null},
                      "stroke": {"field": "s", "type": "nominal", "scale": {"domain": ["ab", "bd", "3rd"], "range": ["#e5234d", "#2656ad", "#37a137"]}, "legend": null}
                    }
                  },
                  {
                    "data": {"name": "dleg"},
                    "mark": {"type": "text", "align": "left", "baseline": "alphabetic", "fontSize": 20, "color": "#222"},
                    "encoding": {
                      "x": {"field": "te", "type": "quantitative", "scale": {"domain": [16.29, 65.8], "nice": false, "zero": false}, "axis": null},
                      "y": {"field": "tv", "type": "quantitative", "scale": {"domain": [-0.036, 0.823], "nice": false, "zero": false}},
                      "text": {"field": "lab"}
                    }
                  },
                  {
                    "data": {"values": [{"lab": "UD", "e": 28.5, "v": 0.735}]},
                    "mark": {"type": "text", "fontSize": 23, "fontWeight": "bold", "baseline": "alphabetic", "align": "center", "color": "#222"},
                    "encoding": {
                      "x": {"field": "e", "type": "quantitative", "scale": {"domain": [16.29, 65.8], "nice": false, "zero": false},
                        "axis": {"orient": "top", "ticks": false, "labels": false,
                          "title": "d", "titleX": -78, "titleY": 15, "titleAlign": "left", "titleBaseline": "alphabetic", "titleAngle": 0, "titleFontSize": 23, "titleFontWeight": "bold"}},
                      "y": {"field": "v", "type": "quantitative", "scale": {"domain": [-0.036, 0.823], "nice": false, "zero": false}},
                      "text": {"field": "lab"}
                    }
                  }
                ]
              }
            ]
          }
        ]
      }
    ]
  }
]
}
